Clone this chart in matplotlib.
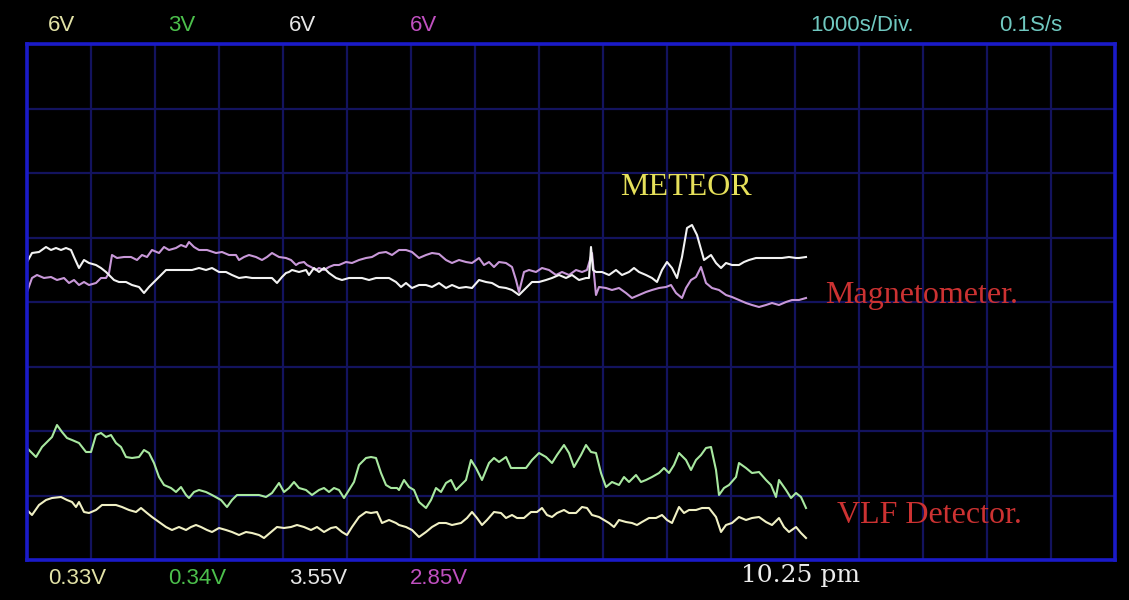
import matplotlib.pyplot as plt
import numpy as np

# x: sample number (64 samples per division, 1000 s/div)
# y: screen level (64 counts per division, 8 divisions high)
mag_white_t = [0, 5, 12, 19, 24, 29, 34, 39, 44, 47, 52, 57, 62, 69, 74, 79, 82, 87, 92, 99,
               105, 112, 117, 122, 129, 139, 152, 165, 172, 179, 185, 192, 199, 205, 212, 219, 225, 239, 245, 250,
               255, 259, 262, 265, 272, 279, 282, 287, 292, 297, 302, 309, 315, 322, 329, 335, 342, 349, 355, 362,
               369, 374, 379, 385, 392, 399, 405, 412, 419, 425, 432, 439, 445, 452, 459, 465, 472, 479, 485, 492,
               499, 505, 512, 519, 525, 532, 539, 545, 552, 559, 562, 564, 566, 569, 575, 582, 589, 595, 602, 607,
               612, 619, 625, 630, 635, 640, 645, 650, 655, 660, 665, 670, 677, 684, 689, 694, 699, 705, 712, 717,
               722, 729, 735, 742, 749, 755, 762, 769, 772, 779]
mag_white_v = [298, 307, 308, 313, 310, 312, 310, 312, 310, 303, 292, 300, 297, 295, 292, 288, 285, 280, 278, 278,
               275, 273, 267, 273, 280, 290, 290, 290, 292, 290, 292, 288, 288, 285, 282, 283, 282, 282, 282, 277,
               283, 287, 288, 290, 288, 290, 285, 292, 288, 292, 287, 282, 280, 282, 282, 282, 280, 282, 282, 282,
               278, 273, 277, 272, 275, 275, 273, 277, 272, 275, 272, 273, 272, 280, 278, 277, 273, 272, 270, 265,
               272, 278, 278, 280, 282, 285, 282, 285, 280, 282, 282, 313, 290, 288, 288, 285, 290, 285, 288, 292,
               288, 285, 282, 278, 290, 298, 292, 282, 303, 332, 335, 325, 300, 305, 297, 292, 297, 295, 295, 298,
               300, 302, 302, 302, 302, 302, 303, 302, 302, 303]

mag_violet_t = [0, 5, 10, 17, 24, 30, 37, 42, 47, 52, 57, 62, 69, 74, 79, 82, 85, 90, 97, 104,
                110, 115, 120, 125, 132, 137, 142, 149, 154, 159, 162, 167, 172, 180, 189, 195, 202, 209, 212, 217,
                222, 229, 235, 240, 245, 252, 259, 264, 269, 272, 277, 280, 284, 289, 292, 297, 302, 307, 312, 319,
                325, 332, 339, 345, 352, 359, 365, 372, 379, 385, 392, 399, 405, 412, 419, 425, 432, 439, 445, 452,
                457, 462, 467, 472, 479, 485, 489, 492, 497, 502, 509, 515, 522, 529, 535, 542, 549, 555, 560, 565,
                569, 572, 579, 585, 592, 599, 605, 612, 619, 625, 632, 639, 644, 649, 655, 659, 664, 669, 674, 679,
                685, 692, 699, 705, 712, 719, 725, 732, 739, 745, 752, 759, 765, 772, 779]
mag_violet_v = [268, 282, 285, 282, 283, 280, 282, 277, 280, 275, 278, 275, 277, 282, 282, 287, 305, 302, 303, 303,
                300, 305, 303, 310, 307, 313, 310, 312, 315, 313, 318, 313, 310, 310, 307, 308, 305, 305, 300, 303,
                305, 303, 300, 303, 307, 303, 302, 300, 295, 297, 298, 295, 293, 290, 292, 290, 293, 295, 295, 298,
                297, 300, 302, 303, 307, 308, 305, 310, 310, 308, 302, 305, 307, 306, 300, 297, 300, 298, 297, 302,
                295, 298, 293, 298, 297, 293, 280, 268, 288, 290, 288, 292, 290, 285, 288, 285, 290, 288, 290, 307,
                265, 273, 272, 270, 272, 267, 262, 265, 268, 270, 272, 273, 275, 267, 262, 272, 280, 283, 293, 277,
                272, 270, 265, 263, 260, 257, 255, 253, 255, 257, 255, 258, 260, 260, 262]

vlf_green_t = [0, 9, 15, 20, 25, 30, 35, 40, 45, 52, 59, 64, 69, 74, 79, 84, 89, 94, 99, 105,
               112, 117, 122, 127, 132, 137, 144, 149, 154, 159, 162, 167, 172, 179, 185, 194, 200, 205, 210, 219,
               225, 232, 239, 245, 252, 257, 262, 267, 272, 279, 285, 292, 297, 302, 307, 312, 317, 322, 327, 332,
               339, 344, 349, 354, 359, 364, 370,
               372, 377, 382, 387, 392, 399, 404, 409, 414, 419, 424, 429, 434, 439, 444, 449, 455, 462, 467, 472,
               479, 484, 489, 494, 499, 505, 512, 519, 525, 530, 537, 542, 547, 554, 559, 564, 569, 574, 579, 585,
               592, 597, 602, 609, 614, 619, 625, 632, 637, 642, 647, 652, 659, 664, 669, 674, 679, 684, 689, 692,
               697, 702, 709, 712, 719, 725, 732, 739, 744, 749, 752, 759, 764, 769, 774, 779]
vlf_green_v = [112, 103, 113, 118, 123, 135, 128, 122, 120, 117, 108, 108, 125, 127, 123, 125, 117, 113, 103, 102,
               103, 110, 107, 97, 83, 75, 72, 68, 73, 65, 62, 68, 70, 68, 65, 60, 53, 60, 65, 65,
               65, 65, 63, 67, 77, 68, 72, 78, 72, 70, 65, 70, 72, 68, 72, 70, 62, 70, 78, 95,
               102, 103, 102, 87, 75, 72, 72,
               70, 80, 73, 70, 58, 52, 60, 72, 68, 77, 80, 70, 75, 80, 100, 92, 80, 97, 102, 98,
               103, 92, 92, 92, 92, 100, 107, 103, 97, 105, 115, 107, 93, 105, 115, 108, 107, 87, 73, 78,
               75, 83, 78, 85, 78, 80, 83, 87, 92, 87, 95, 107, 100, 90, 100, 105, 112, 113, 90, 65,
               72, 75, 83, 97, 92, 87, 88, 80, 75, 63, 80, 70, 62, 67, 63, 52]

vlf_yellow_t = [0, 5, 12, 19, 25, 34, 40, 45, 49, 52, 57, 62, 69, 75, 82, 89, 95, 102, 109, 114,
                120, 125, 132, 139, 145, 152, 159, 164, 169, 174, 180, 185, 192, 199, 205, 212, 219, 225, 232, 237,
                244, 250, 257, 264, 270, 277, 284, 290, 297, 304, 309, 315, 320, 325, 332, 339, 344, 350, 355, 362,
                369,
                372, 379, 385, 392, 399, 405, 412, 419, 425, 434, 440, 445, 450, 455, 460, 467, 474, 479, 485, 490,
                497, 504, 510, 515, 520, 525, 530, 537, 542, 549, 555, 560, 565, 572, 577, 582, 587, 592, 599, 605,
                610, 615, 622, 629, 635, 640, 645, 652, 657, 662, 669, 675, 682, 689, 694, 699, 705, 712, 719, 725,
                732, 739, 745, 752, 757, 762, 769, 774, 779]
vlf_yellow_v = [50, 45, 55, 60, 62, 63, 60, 58, 53, 58, 48, 47, 50, 55, 55, 55, 53, 50, 48, 52,
                47, 43, 38, 33, 30, 33, 30, 33, 35, 33, 30, 28, 32, 30, 28, 25, 28, 27, 25, 22,
                28, 33, 32, 33, 35, 33, 30, 33, 28, 32, 33, 28, 25, 33, 43, 48, 47, 48, 37, 40,
                37,
                35, 33, 30, 23, 28, 33, 37, 37, 35, 37, 42, 48, 42, 35, 40, 48, 47, 42, 45, 42,
                42, 48, 48, 52, 45, 43, 47, 50, 47, 47, 53, 52, 45, 43, 40, 37, 33, 40, 38, 37,
                35, 38, 42, 42, 45, 40, 37, 53, 47, 50, 50, 52, 52, 43, 28, 35, 37, 43, 40, 42,
                43, 38, 35, 42, 33, 28, 33, 27, 22]

range_labels = ["6V", "3V", "6V", "6V"]
reading_labels = ["0.33V", "0.34V", "3.55V", "2.85V"]
channel_colors = ["#e2e2a6", "#4cc04c", "#e6e6e6", "#c050c0"]

W, H = 1129, 600
fig = plt.figure(figsize=(W / 100, H / 100), dpi=100, facecolor="black")
ax = fig.add_axes([27 / W, 40 / H, 1088 / W, 516 / H])
ax.set_facecolor("black")
ax.set_xlim(0, 1088)
ax.set_ylim(0, 516)
ax.set_xticks(np.arange(0, 1089, 64))
ax.set_yticks(np.linspace(0, 516, 9))
ax.grid(True, color="#13135e", lw=1.6)
ax.tick_params(length=0, labelbottom=False, labelleft=False)
for s in ax.spines.values():
    s.set_color("#1a1ac8")
    s.set_linewidth(2.6)

ax.plot(mag_violet_t, mag_violet_v, color="#c898d8", lw=1.5)
ax.plot(mag_white_t, mag_white_v, color="#f2f2f2", lw=1.5)
ax.plot(vlf_green_t, vlf_green_v, color="#a8e8a0", lw=1.5)
ax.plot(vlf_yellow_t, vlf_yellow_v, color="#f0f0c4", lw=1.5)

serif = ["Liberation Serif", "DejaVu Serif"]
ax.text(593, 365, "METEOR", color="#e6e05a", fontsize=23, family=serif, va="baseline")
ax.text(798, 257, "Magnetometer.", color="#cc3232", fontsize=23, family=serif, va="baseline")
ax.text(810, 37, "VLF Detector.", color="#cc3232", fontsize=23, family=serif, va="baseline")

sans = ["Liberation Sans", "DejaVu Sans"]
for i, (lab, col) in enumerate(zip(range_labels, channel_colors)):
    fig.text((48 + 120.5 * i) / W, 1 - 25.5 / H, lab, color=col, fontsize=16,
             family=sans, va="center")
for i, (lab, col) in enumerate(zip(reading_labels, channel_colors)):
    fig.text((48 + 120.5 * i) / W, 1 - 578.5 / H, lab, color=col, fontsize=16,
             family=sans, va="center")
fig.text(810 / W, 1 - 25.5 / H, "1000s/Div.", color="#70c8c0", fontsize=16, family=sans, va="center")
fig.text(999 / W, 1 - 25.5 / H, "0.1S/s", color="#70c8c0", fontsize=16, family=sans, va="center")
fig.text(741 / W, 1 - 582 / H, "10.25 pm", color="#ececec", fontsize=18, family="DejaVu Serif",
         va="baseline")

fig.savefig("out.png", dpi=100, facecolor="black")
